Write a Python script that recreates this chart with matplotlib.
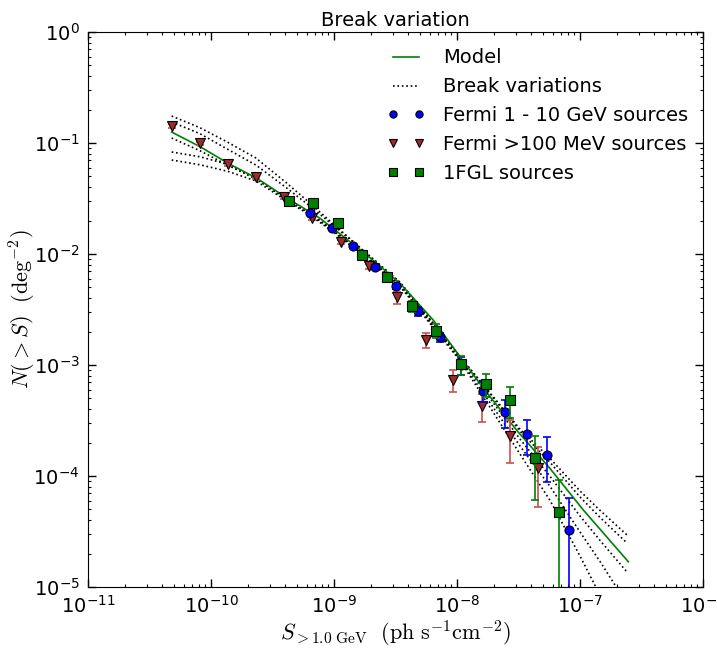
import matplotlib
matplotlib.use('Agg')
import matplotlib.pyplot as plt
import numpy as np

plt.rcParams['font.family'] = ['DejaVu Sans']
plt.rcParams['mathtext.fontset'] = 'cm'

# Fermi >100 MeV sources (triangles)
tri_s = [4.79e-11, 8.14e-11, 1.37e-10, 2.33e-10, 3.94e-10, 6.66e-10, 1.14e-9,
         1.94e-9, 3.25e-9, 5.57e-9, 9.33e-9, 1.59e-8, 2.70e-8, 4.56e-8]
tri_n = [0.142, 0.0994, 0.0643, 0.0497, 0.0324, 0.0213, 0.0129,
         0.00774, 0.00407, 0.00168, 7.33e-4, 4.27e-4, 2.27e-4, 1.17e-4]
tri_err = [0.005, 0.0035, 0.0025, 0.002, 0.0013, 0.0009, 0.0006,
           0.0004, 0.0005, 0.00025, 1.6e-4, 1.2e-4, 0.95e-4, 0.64e-4]

# Fermi 1 - 10 GeV sources (circles)
circ_s = [6.38e-10, 9.57e-10, 1.435e-9, 2.17e-9, 3.21e-9, 4.85e-9, 7.28e-9,
          1.078e-8, 1.637e-8, 2.455e-8, 3.69e-8, 5.42e-8, 8.18e-8]
circ_n = [0.02355, 0.01733, 0.01172, 0.00769, 0.00512, 0.00306, 0.00177,
          0.001, 5.83e-4, 3.77e-4, 2.38e-4, 1.556e-4, 3.26e-5]
circ_err = [0.0006, 0.0005, 0.0004, 0.0003, 0.00025, 0.0003, 0.00017,
            0.00019, 1.2e-4, 1.06e-4, 0.82e-4, 0.67e-4, 3.1e-5]

# 1FGL sources (squares)
sq_s = [4.31e-10, 6.71e-10, 1.071e-9, 1.698e-9, 2.70e-9, 4.29e-9, 6.75e-9,
        1.078e-8, 1.71e-8, 2.70e-8, 4.30e-8, 6.75e-8]
sq_n = [0.0302, 0.029, 0.0191, 0.0099, 0.00624, 0.0034, 0.00204,
        0.001015, 6.75e-4, 4.84e-4, 1.44e-4, 4.77e-5]
sq_err = [0.0008, 0.0008, 0.0006, 0.0004, 0.0003, 0.00037, 0.0003,
          0.0002, 0.00016, 0.00015, 0.83e-4, 4.4e-5]

# model curve
model_s = [4.79e-11, 8.15e-11, 1.38e-10, 2.36e-10, 4.0e-10, 7.69e-10, 1.85e-9,
           3.44e-9, 6.41e-9, 1.057e-8, 1.64e-8, 3.05e-8, 5.70e-8, 1.064e-7, 2.47e-7]
model_n = [0.1256, 0.0927, 0.0656, 0.0481, 0.0328, 0.0210, 0.0098,
           0.00545, 0.00254, 0.00119, 6.17e-4, 2.59e-4, 1.17e-4, 4.94e-5, 1.69e-5]

# break variations
var_s = [4.79e-11, 8.14e-11, 1.37e-10, 2.32e-10, 4.0e-10, 6.38e-10, 1.12e-9,
         3.44e-9, 1.06e-8, 3.25e-8, 5.7e-8, 1.0e-7, 1.45e-7, 2.41e-7]
var_a = [0.175, 0.1373, 0.1015, 0.0732, 0.0448, 0.02874, 0.01646,
         0.00556, 0.001188, 2.65e-4, 1.443e-4, 7.33e-5, 4.92e-5, 2.94e-5]
var_b = [0.1546, 0.1213, 0.0877, 0.0633, 0.0404, 0.0270, 0.01612,
         0.00556, 0.001188, 2.54e-4, 1.328e-4, 6.47e-5, 4.25e-5, 2.49e-5]
var_c = [0.1109, 0.0852, 0.0630, 0.0474, 0.0321, 0.02335, 0.01483,
         0.00533, 0.001163, 2.154e-4, 9.94e-5, 4.36e-5, 2.64e-5, 1.365e-5]
var_d = [0.0830, 0.0752, 0.0643, 0.0484, 0.0315, 0.02288, 0.01453,
         0.00522, 0.001116, 1.864e-4, 8.07e-5, 3.13e-5, 1.708e-5, 7.03e-6]
var_e = [0.0703, 0.0637, 0.0556, 0.0455, 0.0308, 0.02241, 0.01423,
         0.00512, 0.001093, 1.578e-4, 6.04e-5, 1.902e-5, 8.47e-6, 2.88e-6]

fig = plt.figure(figsize=(7.17, 6.51), dpi=100)
ax = fig.add_axes([0.1227, 0.0983, 0.8578, 0.8525])

green = (0, 0.5, 0)
brown = '#9c2b2b'

l_var = None
for v in [var_a, var_b, var_c, var_d, var_e]:
    l, = ax.plot(var_s, v, ':', color='k', lw=1.2)
    if l_var is None:
        l_var = l
l_model, = ax.plot(model_s, model_n, '-', color=green, lw=1.2)

ax.errorbar(tri_s, tri_n, yerr=tri_err, fmt='none', ecolor='#c85050',
            capsize=3, elinewidth=1.2, capthick=1.2)
l_tri, = ax.plot(tri_s, tri_n, 'v', color=brown, mec='k', ms=7, mew=0.8)
ax.errorbar(circ_s, circ_n, yerr=circ_err, fmt='none', ecolor='b',
            capsize=3, elinewidth=1.2, capthick=1.2)
l_circ, = ax.plot(circ_s, circ_n, 'o', color='b', mec='k', ms=6.5, mew=0.8)
ax.errorbar(sq_s, sq_n, yerr=sq_err, fmt='none', ecolor=green,
            capsize=3, elinewidth=1.2, capthick=1.2)
l_sq, = ax.plot(sq_s, sq_n, 's', color=green, mec='k', ms=6.5, mew=0.8)

ax.set_xscale('log')
ax.set_yscale('log')
ax.set_xlim(1e-11, 1e-6)
ax.set_ylim(1e-5, 1)

ax.tick_params(which='both', direction='in', top=True, right=True,
               labelsize=14, pad=6)
ax.tick_params(which='major', length=5.5, width=1)
ax.tick_params(which='minor', length=2.5, width=0.8)

ax.set_title('Break variation', fontsize=14, pad=4)
ax.set_xlabel(r'$S_{>1.0\ \mathrm{GeV}}\ \ (\mathrm{ph\ s^{-1} cm^{-2}})$',
              fontsize=16, labelpad=1)
ax.set_ylabel(r'$N(>S)\ \ (\mathrm{deg}^{-2})$', fontsize=16)
ax.yaxis.set_label_coords(-0.081, 0.5)

ax.legend([l_model, l_var, l_circ, l_tri, l_sq],
          ['Model', 'Break variations', 'Fermi 1 - 10 GeV sources',
           'Fermi >100 MeV sources', '1FGL sources'],
          loc='upper right', frameon=False, numpoints=2, fontsize=14,
          handlelength=1.9, handletextpad=0.95, labelspacing=0.51,
          markerscale=0.8, bbox_to_anchor=(1.004, 1.002))

fig.savefig('out.png', dpi=100)
